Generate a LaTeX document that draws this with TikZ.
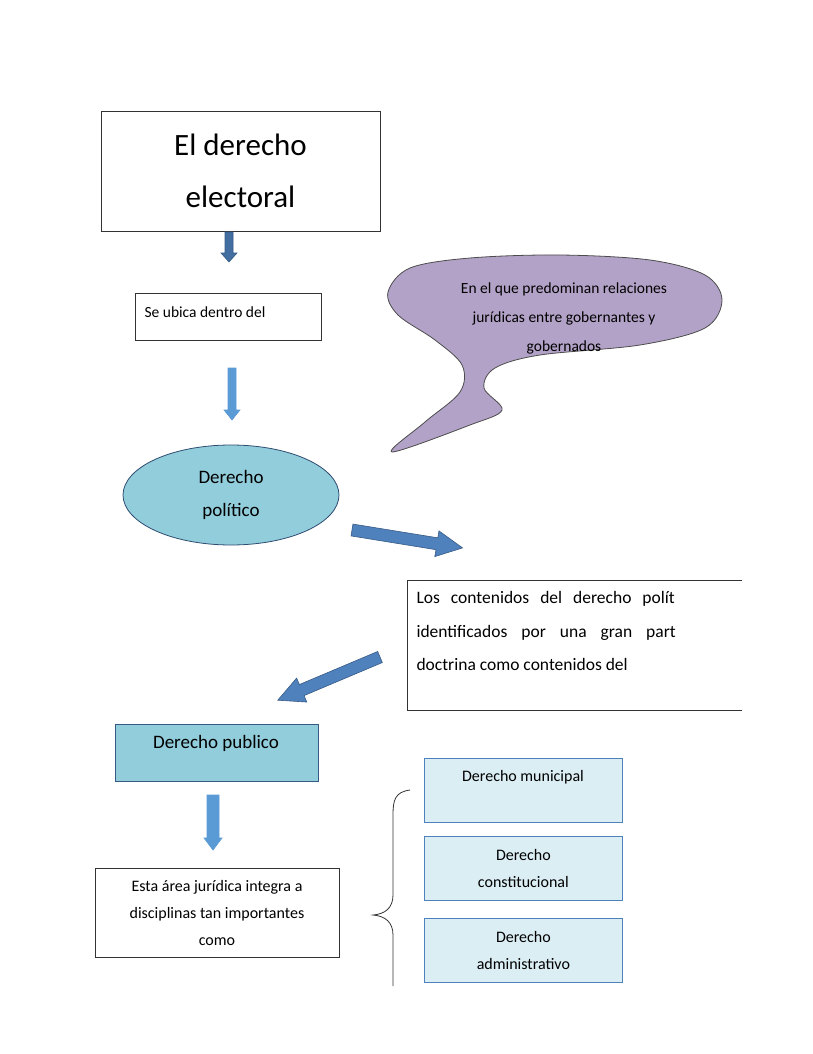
\documentclass[tikz,border=0pt]{standalone}
\usepackage{fontspec}
\setmainfont{Carlito}
\usetikzlibrary{shapes.geometric}
\definecolor{dblue}{HTML}{4F81BD}
\definecolor{lblue}{HTML}{5B9BD5}
\definecolor{cyanf}{HTML}{92CDDC}
\definecolor{paleb}{HTML}{DBEEF4}
\definecolor{purp}{HTML}{B3A2C7}
\tikzset{
 box/.style={draw=black!80,line width=0.8pt,fill=white},
 sub/.style={draw=dblue,line width=0.8pt,fill=paleb,minimum width=198pt,minimum height=64pt,font=\fontsize{16}{27}\selectfont,align=center},
 barrow/.style={draw=dblue!70!black,fill=dblue,line width=0.6pt},
}
% #1 start, #2 angle, #3 length, #4 shaft half width, #5 head half width, #6 head length, #7 style
\newcommand{\blockarr}[7]{%
 \begin{scope}[shift={#1},rotate=#2]
 \draw[barrow,#7] (0,-#4) -- ({#3-#6},-#4) -- ({#3-#6},-#5) -- (#3,0) -- ({#3-#6},#5) -- ({#3-#6},#4) -- (0,#4) -- cycle;
 \end{scope}}
\begin{document}
\begin{tikzpicture}[x=1pt,y=-1pt]
\useasboundingbox (0,0) rectangle (812,1054);
\node[box,minimum width=279pt,minimum height=120pt,align=center,font=\fontsize{31}{52}\selectfont] (title) at (240.5,171) {El derecho\\electoral};
\coordinate (a1s) at (229,232);
\blockarr{(a1s)}{-90}{30}{4}{8}{9}{fill=dblue!85!black}
\node[box,minimum width=186pt,minimum height=47pt,anchor=north west] (ubica) at (135,293) {};
\node[anchor=west,font=\fontsize{15.5}{18}\selectfont] (ubicat) at (141,312) {Se ubica dentro del};
\coordinate (a2s) at (232,368);
\blockarr{(a2s)}{-90}{52}{4}{8}{10}{fill=lblue,draw=lblue}
\node[ellipse,draw=dblue!60!black,fill=cyanf,line width=0.8pt,minimum width=216pt,minimum height=100pt,align=center,font=\fontsize{19}{33}\selectfont] (pol) at (231,495) {Derecho\\político};
\draw[fill=purp,draw=black!70,line width=0.8pt] plot[smooth cycle,tension=0.55] coordinates {(388,292) (410,268) (470,258) (560,255) (650,260) (705,275) (722,300) (705,328) (640,345) (540,355) (495,368) (484,388) (502,410) (470,425) (392,452) (425,422) (460,392) (462,365) (435,340) (398,315)};
\node[font=\fontsize{15.5}{29}\selectfont,align=center] (cloudt) at (564,318) {En el que predominan relaciones\\jurídicas entre gobernantes y\\gobernados};
\coordinate (a3s) at (352,530);
\blockarr{(a3s)}{-9.2}{112}{6}{13}{26}{}
\draw[line width=0.8pt,black!80] (742,580) -- (407,580) -- (407,710) -- (742,710);
\node[anchor=north west,font=\fontsize{17.5}{33.5}\selectfont,align=left] (cont) at (413,588) {Los\hspace{11pt}contenidos\hspace{11pt}del\hspace{11pt}derecho\hspace{11pt}polít\\identificados\hspace{14pt}por\hspace{14pt}una\hspace{14pt}gran\hspace{14pt}part\\doctrina como contenidos del};
\fill[white] (742,570) rectangle (812,720);
\coordinate (a4s) at (380,657);
\blockarr{(a4s)}{-157.1}{111}{6}{13}{26}{}
\node[draw=dblue!70!black,fill=cyanf,line width=0.8pt,minimum width=203pt,minimum height=57pt,anchor=north west] (pub) at (115,724) {};
\node[font=\fontsize{19}{20}\selectfont] (pubt) at (216,743) {Derecho publico};
\coordinate (a5s) at (213,795);
\blockarr{(a5s)}{-90}{55}{6}{9}{12}{fill=lblue,draw=lblue}
\node[box,minimum width=244pt,minimum height=89pt,align=center,font=\fontsize{16}{27}\selectfont] (esta) at (217,912.5) {Esta área jurídica integra a\\disciplinas tan importantes\\como};
\draw[black!80,line width=0.8pt] (410,790) .. controls (395,792) and (393,800) .. (393,815) -- (393,895) .. controls (393,908) and (385,914) .. (373,915) .. controls (385,916) and (393,922) .. (393,935) -- (393,986);
\node[sub,anchor=north west] (mun) at (424,758) {};
\node[font=\fontsize{16}{18}\selectfont] (munt) at (523,777) {Derecho municipal};
\node[sub,anchor=north west] (con) at (424,836) {Derecho\\constitucional};
\node[sub,anchor=north west] (adm) at (424,918) {Derecho\\administrativo};
\end{tikzpicture}
\end{document}
